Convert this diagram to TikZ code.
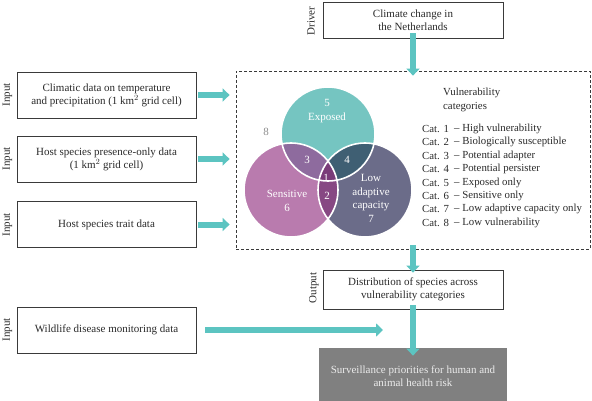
\documentclass[tikz,border=0pt]{standalone}
\usepackage{fontspec}
\setmainfont{Liberation Serif}
\usetikzlibrary{arrows.meta,calc}
\definecolor{arrc}{HTML}{5CC4C1}
\definecolor{cTop}{HTML}{75C5C1}
\definecolor{cLeft}{HTML}{B97BAE}
\definecolor{cRight}{HTML}{6B6C89}
\definecolor{cTL}{HTML}{8E6B9E}
\definecolor{cTR}{HTML}{3F5F73}
\definecolor{cLR}{HTML}{874883}
\definecolor{cAll}{HTML}{7A3C79}
\definecolor{boxc}{HTML}{3A3A3A}
\definecolor{txt}{HTML}{2A2A2A}
\begin{document}
\begin{tikzpicture}[x=1pt,y=-1pt,
  box/.style={draw=boxc,line width=0.8pt,fill=white,align=center,font=\fontsize{11}{13}\selectfont,text=txt,inner sep=0pt},
  side/.style={rotate=90,font=\fontsize{11}{12}\selectfont,text=txt,inner sep=0pt},
  arr/.style={draw=arrc,line width=6pt,-{Triangle[length=7pt,width=13pt]}},
  vtxt/.style={text=white,font=\fontsize{11}{13.5}\selectfont,align=center,inner sep=0pt},
  leg/.style={anchor=west,font=\fontsize{10.8}{13.4}\selectfont,text=txt,inner sep=0pt}]
\useasboundingbox (0,0) rectangle (592,401);
% boxes
\node[box,minimum width=180pt,minimum height=36pt] (drv) at (413,20) {Climate change in\\the Netherlands};
\node[side] (ldrv) at (311,21) {Driver};
\node[box,minimum width=179pt,minimum height=46pt] (clim) at (106.5,95) {Climatic data on temperature\\and precipitation (1 km$^2$ grid cell)};
\node[side] (l1) at (7.5,95) {Input};
\node[box,minimum width=179pt,minimum height=46pt] (host) at (106.5,159) {Host species presence-only data\\(1 km$^2$ grid cell)};
\node[side] (l2) at (7.5,159) {Input};
\node[box,minimum width=179pt,minimum height=46pt] (trait) at (106.5,224.5) {Host species trait data};
\node[side] (l3) at (7.5,225) {Input};
\node[box,minimum width=179pt,minimum height=46pt] (wild) at (106.5,330) {Wildlife disease monitoring data};
\node[side] (l4) at (7.5,330) {Input};
\node[box,minimum width=180pt,minimum height=39pt] (out) at (413,289.5) {Distribution of species across\\vulnerability categories};
\node[side] (l5) at (314,288) {Output};
\node[box,draw=none,fill=black!50,text=black!8,minimum width=188pt,minimum height=56pt] (surv) at (413,376) {Surveillance priorities for human and\\animal health risk};
% dashed region
\node[draw=boxc,line width=0.8pt,dash pattern=on 3pt off 2pt,minimum width=354pt,minimum height=178pt,inner sep=0pt] (dash) at (413,160) {};
% venn
\coordinate (ct) at (328,134);
\coordinate (cl) at (291,190);
\coordinate (cr) at (365,190);
\fill[cTop] (ct) circle (47);
\fill[cLeft] (cl) circle (47);
\fill[cRight] (cr) circle (47);
\begin{scope}\clip (ct) circle (47); \fill[cTL] (cl) circle (47); \end{scope}
\begin{scope}\clip (ct) circle (47); \fill[cTR] (cr) circle (47); \end{scope}
\begin{scope}\clip (cl) circle (47); \fill[cLR] (cr) circle (47); \end{scope}
\begin{scope}\clip (cl) circle (47); \clip (cr) circle (47); \fill[cAll] (ct) circle (47); \end{scope}
\draw[white,line width=1.6pt] (ct) circle (47) (cl) circle (47) (cr) circle (47);
\node[vtxt] (v5) at (327,111) {5\\Exposed};
\node[text=black!45,font=\fontsize{11}{12}\selectfont,inner sep=0pt] (v8) at (266,132) {8};
\node[vtxt] (v3) at (307,160) {3};
\node[vtxt] (v4) at (347,160) {4};
\node[vtxt] (v1) at (326,178) {1};
\node[vtxt] (v2) at (327,196) {2};
\node[vtxt] (v6) at (287,201) {Sensitive\\6};
\node[vtxt] (v7) at (371,198.5) {Low\\adaptive\\capacity\\7};
% legend
\node[leg] (lh) at (443,100) {\begin{tabular}{@{}l@{}}Vulnerability\\categories\end{tabular}};
\foreach \i/\t [count=\k] in {1/High vulnerability,2/Biologically susceptible,3/Potential adapter,4/Potential persister,5/Exposed only,6/Sensitive only,7/Low adaptive capacity only,8/Low vulnerability}{
  \node[leg] (c\k) at (422,{129+13.4*(\k-1)}) {Cat. \i};
  \node[leg] (d\k) at (454,{129+13.4*(\k-1)}) {– \t};
}
% arrows
\draw[arr] ([yshift=5pt]drv.south) -- ([yshift=-5pt]drv.south |- dash.north);
\draw[arr] ([xshift=2pt]clim.east) -- ([xshift=-6pt]dash.west |- clim.east);
\draw[arr] ([xshift=2pt]host.east) -- ([xshift=-6pt]dash.west |- host.east);
\draw[arr] ([xshift=2pt]trait.east) -- ([xshift=-6pt]dash.west |- trait.east);
\draw[arr] ([yshift=4pt]dash.south) -- ([yshift=-3pt]out.north);
\draw[arr] ([yshift=4pt]out.south) -- ([yshift=-8pt]surv.north);
\draw[arr] ([xshift=9pt]wild.east) -- ($(surv.north |- wild.east)+(-30,0)$);
\end{tikzpicture}
\end{document}
